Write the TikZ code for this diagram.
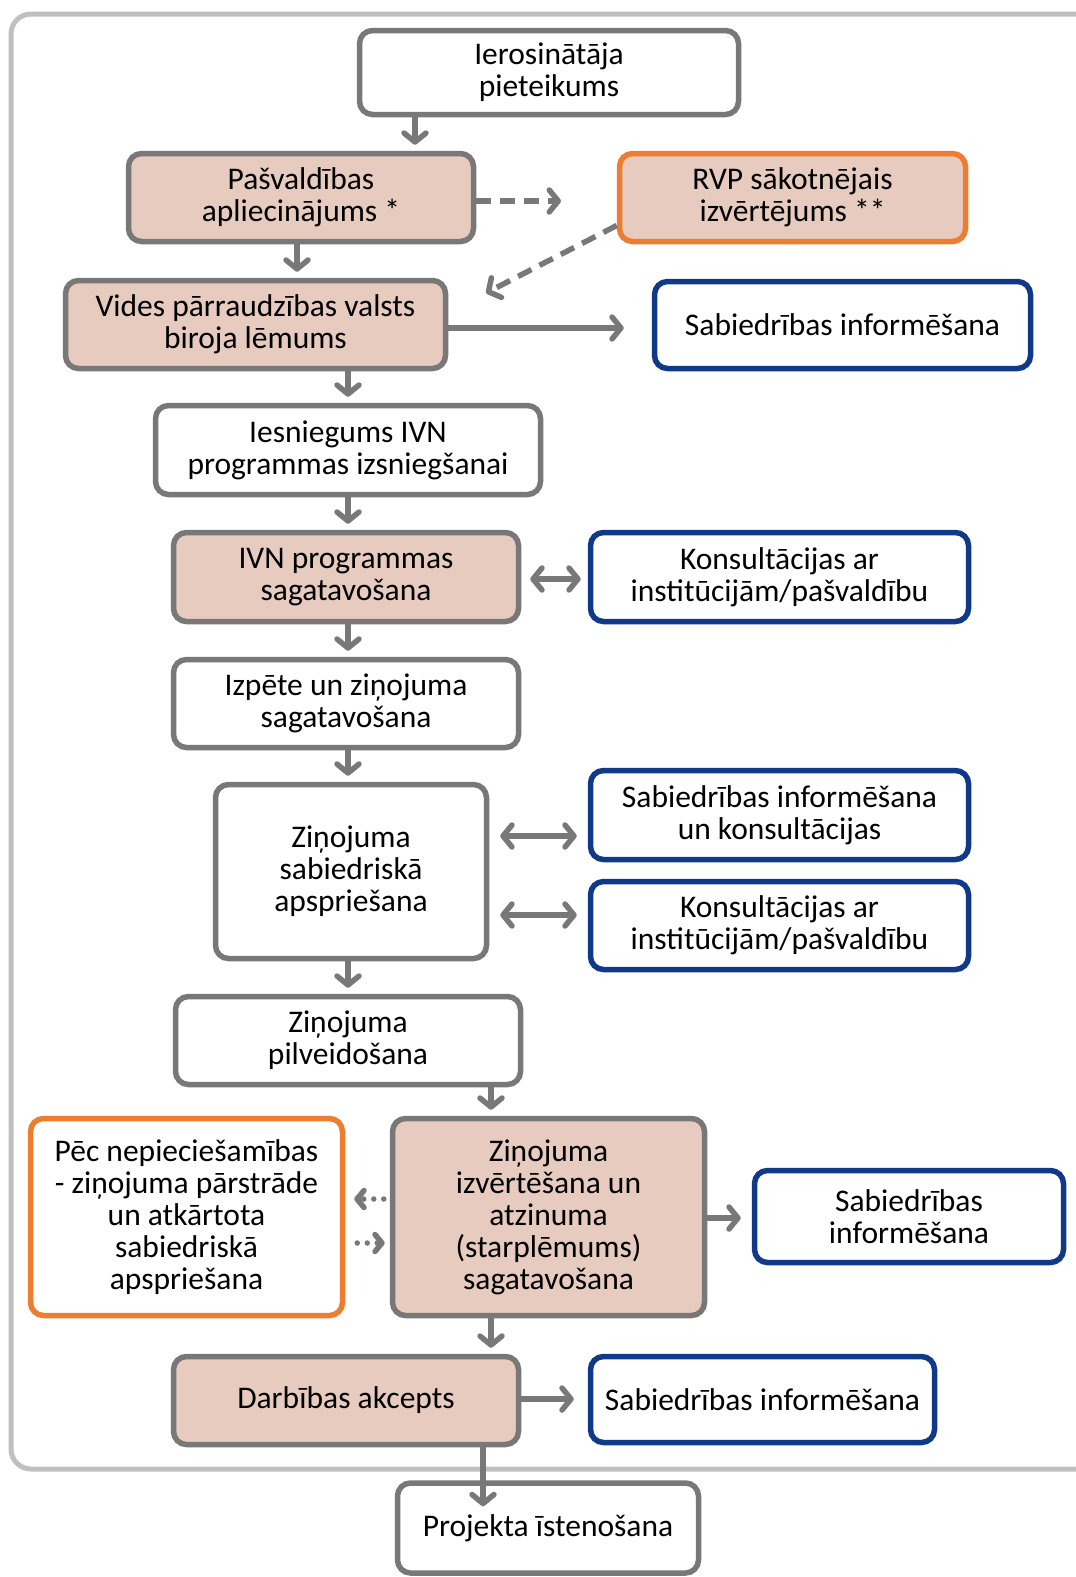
\documentclass[tikz,border=0pt]{standalone}
\usepackage{fontspec}
\setmainfont{Carlito}
\usepackage{tikz}
\usetikzlibrary{arrows.meta}
\definecolor{boxgray}{RGB}{120,120,120}
\definecolor{framegray}{RGB}{192,192,192}
\definecolor{boxpink}{RGB}{230,203,190}
\definecolor{boxorange}{RGB}{237,125,49}
\definecolor{boxblue}{RGB}{16,57,138}
\newcommand{\boxfont}{\fontsize{31.5}{32}\selectfont}
\tikzset{
    box/.style={rounded corners=13pt, line width=5.5pt, inner sep=0pt, align=center, font=\boxfont},
    graybox/.style={box, draw=boxgray, fill=white},
    pinkbox/.style={box, draw=boxgray, fill=boxpink},
    orangebox/.style={box, draw=boxorange, fill=white},
    rvpbox/.style={box, draw=boxorange, fill=boxpink},
    bluebox/.style={box, draw=boxblue, fill=white},
    arr/.style={draw=boxgray, line width=5.5pt, -{Straight Barb[length=9pt, width=22pt, round]}},
    darr/.style={arr, {Straight Barb[length=9pt, width=22pt, round]}-{Straight Barb[length=9pt, width=22pt, round]}},
    dasharr/.style={arr, dash pattern=on 15pt off 9pt},
    dotarr/.style={draw=boxgray, line width=5.5pt, line cap=round, dash pattern=on 0pt off 10pt, -{Straight Barb[length=7pt, width=17pt, round]}},
}

\begin{document}
\begin{tikzpicture}[x=1pt, y=-1pt]
\clip (0,0) rectangle (1076,1577);
\useasboundingbox (0,0) rectangle (1076,1577);
\draw[line width=5pt, draw=framegray, rounded corners=20pt] (11,14) rectangle (1110,1469);

\node[graybox, minimum width=379pt, minimum height=84pt] (ini) at (549,72.5) {Ierosinātāja\\pieteikums};
\node[pinkbox, minimum width=345pt, minimum height=88pt] (apl) at (301,197.5) {Pašvaldības\\apliecinājums *};
\node[rvpbox, minimum width=346pt, minimum height=88pt] (rvp) at (792.5,197.5) {RVP sākotnējais\\izvērtējums **};
\node[pinkbox, minimum width=380pt, minimum height=88pt] (vpvb) at (255.5,324.5) {Vides pārraudzības valsts\\biroja lēmums};
\node[bluebox, minimum width=376pt, minimum height=87pt] (si1) at (842.5,325) {Sabiedrības informēšana};
\node[graybox, minimum width=385pt, minimum height=89pt] (iesn) at (348,450) {Iesniegums IVN\\programmas izsniegšanai};
\node[pinkbox, minimum width=345pt, minimum height=89pt] (ivnp) at (346,577) {IVN programmas\\sagatavošana};
\node[bluebox, minimum width=378pt, minimum height=89pt] (kons1) at (779.5,577) {Konsultācijas ar\\institūcijām/pašvaldību};
\node[graybox, minimum width=345pt, minimum height=88pt] (izp) at (346,703.5) {Izpēte un ziņojuma\\sagatavošana};
\node[graybox, minimum width=271pt, minimum height=174pt] (zsa) at (351,871.5) {Ziņojuma\\sabiedriskā\\apspriešana};
\node[bluebox, minimum width=378pt, minimum height=89pt] (sik) at (779.5,815) {Sabiedrības informēšana\\un konsultācijas};
\node[bluebox, minimum width=378pt, minimum height=88pt] (kons2) at (779.5,925.5) {Konsultācijas ar\\institūcijām/pašvaldību};
\node[graybox, minimum width=345pt, minimum height=88pt] (zpil) at (348,1040.5) {Ziņojuma\\pilveidošana};
\node[orangebox, minimum width=312pt, minimum height=197pt] (pec) at (186.5,1217) {Pēc nepieciešamības\\- ziņojuma pārstrāde\\un atkārtota\\sabiedriskā\\apspriešana};
\node[pinkbox, minimum width=312pt, minimum height=197pt] (zizv) at (548.5,1217) {Ziņojuma\\izvērtēšana un\\atzinuma\\(starplēmums)\\sagatavošana};
\node[bluebox, minimum width=309pt, minimum height=92pt] (si3) at (909,1216.5) {Sabiedrības\\informēšana};
\node[pinkbox, minimum width=345pt, minimum height=88pt] (dak) at (346,1400.5) {Darbības akcepts};
\node[bluebox, minimum width=344pt, minimum height=86pt] (si4) at (762.5,1399.5) {Sabiedrības informēšana};
\node[graybox, minimum width=301pt, minimum height=90pt] (proj) at (548,1528) {Projekta īstenošana};

\coordinate (atip) at (561,201);
\coordinate (vtip) at (486,293);

\draw[arr, shorten >=6pt] (ini.south -| 415,0) -- (apl.north -| 415,0);
\draw[arr, shorten >=6pt] (apl.south -| 297,0) -- (vpvb.north -| 297,0);
\draw[dasharr] (apl.east |- 0,201) -- (atip);
\draw[dasharr] ([yshift=-28pt]rvp.west) -- (vtip);
\draw[arr, shorten >=28pt] (vpvb.east |- 0,328) -- (si1.west |- 0,328);
\draw[arr, shorten >=6pt] (vpvb.south -| 348,0) -- (iesn.north -| 348,0);
\draw[arr, shorten >=6pt] (iesn.south -| 348,0) -- (ivnp.north -| 348,0);
\draw[darr, shorten <=9pt, shorten >=7pt] (ivnp.east |- 0,579) -- (kons1.west |- 0,579);
\draw[arr, shorten >=6pt] (ivnp.south -| 348,0) -- (izp.north -| 348,0);
\draw[arr, shorten >=6pt] (izp.south -| 348,0) -- (zsa.north -| 348,0);
\draw[darr, shorten <=11pt, shorten >=11pt] (zsa.east |- 0,836) -- (sik.west |- 0,836);
\draw[darr, shorten <=11pt, shorten >=11pt] (zsa.east |- 0,915) -- (kons2.west |- 0,915);
\draw[arr, shorten >=6pt] (zsa.south -| 348,0) -- (zpil.north -| 348,0);
\draw[arr, shorten >=6pt] (zpil.south -| 491,0) -- (zizv.north -| 491,0);
\draw[dotarr, shorten <=6pt, shorten >=9pt] (zizv.west |- 0,1199) -- (pec.east |- 0,1199);
\draw[dotarr, shorten <=12pt, shorten >=5pt] (pec.east |- 0,1243) -- (zizv.west |- 0,1243);
\draw[arr, shorten >=11pt] (zizv.east |- 0,1218) -- (si3.west |- 0,1218);
\draw[arr, shorten >=6pt] (zizv.south -| 491,0) -- (dak.north -| 491,0);
\draw[arr, shorten >=14pt] (dak.east |- 0,1399) -- (si4.west |- 0,1399);
\draw[arr, shorten >=-26pt] (dak.south -| 483,0) -- (proj.north -| 483,0);
\end{tikzpicture}
\end{document}
